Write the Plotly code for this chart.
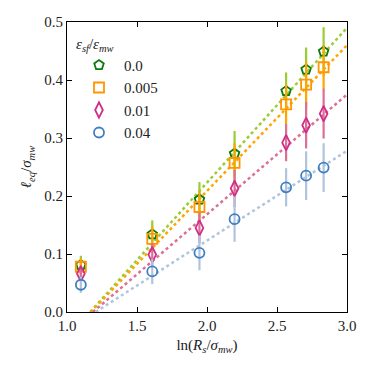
import plotly.graph_objects as go

x = [1.099, 1.609, 1.946, 2.197, 2.565, 2.708, 2.833]

labels = ["0.0", "0.005", "0.01", "0.04"]
y_00 = [0.081, 0.134, 0.194, 0.273, 0.381, 0.418, 0.449]
e_00 = [0.016, 0.024, 0.030, 0.039, 0.032, 0.038, 0.042]
y_005 = [0.078, 0.126, 0.181, 0.257, 0.358, 0.392, 0.422]
e_005 = [0.014, 0.022, 0.028, 0.034, 0.035, 0.040, 0.038]
y_01 = [0.066, 0.099, 0.145, 0.213, 0.292, 0.322, 0.342]
e_01 = [0.012, 0.020, 0.026, 0.032, 0.032, 0.040, 0.043]
y_04 = [0.047, 0.070, 0.102, 0.160, 0.215, 0.235, 0.249]
e_04 = [0.014, 0.022, 0.030, 0.039, 0.033, 0.042, 0.042]

# fitted dotted lines: (x at y=0, end x), (0, y at end)
fit_x_00 = [1.165, 3.0]; fit_y_00 = [0.0, 0.490]
fit_x_005 = [1.170, 3.0]; fit_y_005 = [0.0, 0.460]
fit_x_01 = [1.185, 3.0]; fit_y_01 = [0.0, 0.375]
fit_x_04 = [1.205, 3.0]; fit_y_04 = [0.0, 0.278]

FONT = "Liberation Serif"
TXT = "#222222"

series = [
    dict(name=labels[0], y=y_00, e=e_00, fx=fit_x_00, fy=fit_y_00,
         sym="pentagon-open", mc="#0a7a0a", bc="#9acd32", lc="#9acd32", size=10),
    dict(name=labels[1], y=y_005, e=e_005, fx=fit_x_005, fy=fit_y_005,
         sym="square-open", mc="#ff9500", bc="#ffa500", lc="#ffa500", size=10),
    dict(name=labels[2], y=y_01, e=e_01, fx=fit_x_01, fy=fit_y_01,
         sym="diamond-tall-open", mc="#d02d8a", bc="#db7093", lc="#db7093", size=11),
    dict(name=labels[3], y=y_04, e=e_04, fx=fit_x_04, fy=fit_y_04,
         sym="circle-open", mc="#3f7fbf", bc="#b0c4de", lc="#b0c4de", size=10),
]

fig = go.Figure()
for s in series:
    fig.add_trace(go.Scatter(x=s["fx"], y=s["fy"], mode="lines",
                             line=dict(color=s["lc"], width=2.5, dash="dot"),
                             showlegend=False, hoverinfo="skip"))
for i, s in enumerate(series):
    fig.add_trace(go.Scatter(
        x=x, y=s["y"], mode="markers", name=s["name"], legendrank=i + 1,
        marker=dict(symbol=s["sym"], size=s["size"], color=s["mc"],
                    line=dict(width=1.8, color=s["mc"])),
        error_y=dict(type="data", array=s["e"], visible=True, width=0,
                     thickness=2.2, color=s["bc"]),
    ))

axis_common = dict(showgrid=False, zeroline=False, ticks="inside", ticklen=5,
                   tickwidth=1, tickcolor="black", showline=True, linecolor="black",
                   linewidth=1.2, mirror="ticks", automargin=False,
                   tickfont=dict(family=FONT, size=15, color=TXT))

fig.update_xaxes(range=[1.0, 3.0], dtick=0.5, tick0=1.0, tickformat=".1f",
                 title=dict(text="ln(<i>R<sub>s</sub></i>/<i>σ<sub>mw</sub></i>)",
                            font=dict(family=FONT, size=15, color=TXT), standoff=6),
                 **axis_common)
fig.update_yaxes(range=[0.0, 0.5], dtick=0.1, tick0=0.0, tickformat=".1f",
                 title=dict(text="<i>ℓ<sub>eq</sub></i>/<i>σ<sub>mw</sub></i>",
                            font=dict(family=FONT, size=15, color=TXT), standoff=8),
                 **axis_common)

fig.update_layout(
    width=374, height=374,
    margin=dict(l=67, r=27, t=22, b=62),
    plot_bgcolor="white", paper_bgcolor="white",
    font=dict(family=FONT, size=15, color=TXT),
    legend=dict(x=0.025, y=0.975, xanchor="left", yanchor="top",
                bgcolor="rgba(0,0,0,0)", borderwidth=0,
                title=dict(text="<i>ε<sub>sf</sub></i>/<i>ε<sub>mw</sub></i>",
                           font=dict(family=FONT, size=15, color=TXT)),
                font=dict(family=FONT, size=15, color=TXT), itemwidth=40),
)

fig.write_html("out.html", config={"displayModeBar": False})

# remove default page margin so the figure sits at the window origin
with open("out.html", "r", encoding="utf-8") as f:
    html = f.read()
html = html.replace("<head>", "<head><style>html,body{margin:0;padding:0;overflow:hidden;}</style>", 1)
with open("out.html", "w", encoding="utf-8") as f:
    f.write(html)
